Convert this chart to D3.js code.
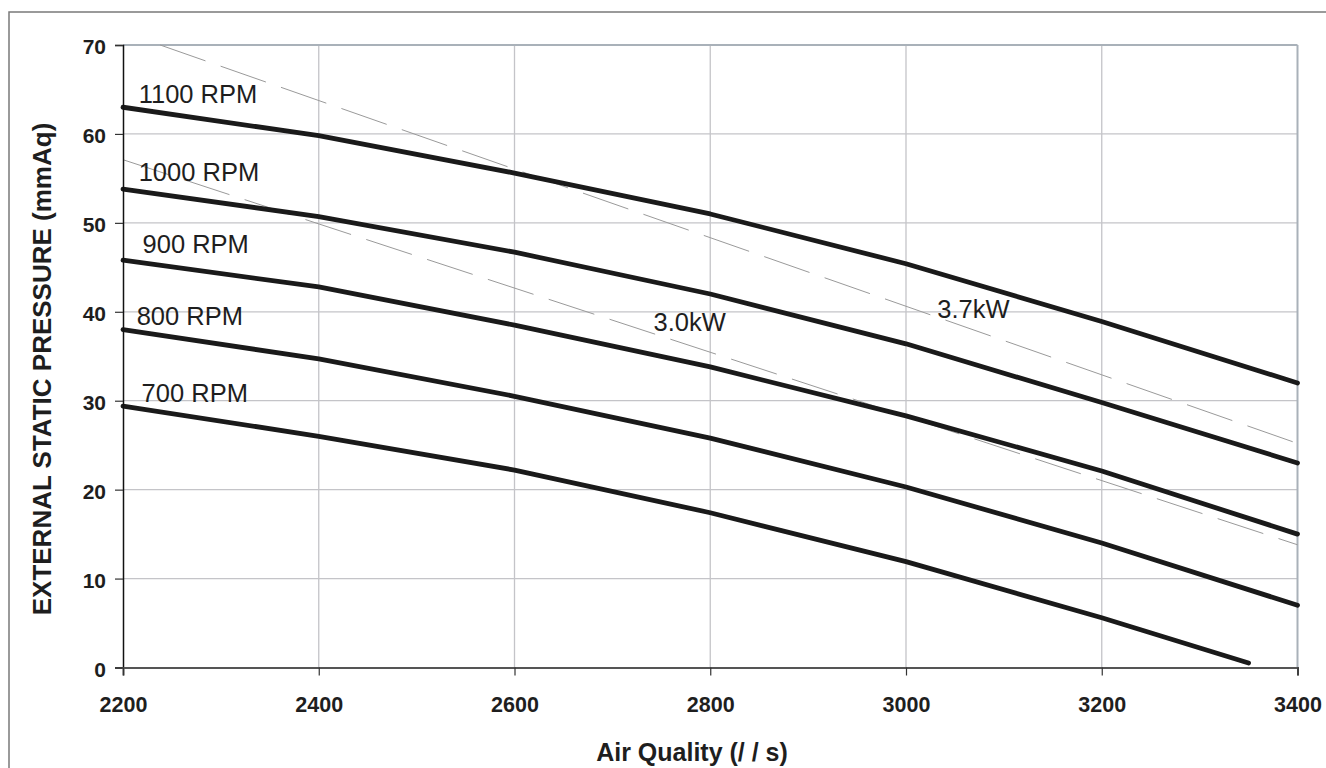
<!DOCTYPE html>
<html>
<head>
<meta charset="utf-8">
<script src="https://cdn.jsdelivr.net/npm/d3@7"></script>
<style>
  body { margin: 0; background: #fff; }
  svg { display: block; font-family: "Liberation Sans", Arial, Helvetica, sans-serif; }
</style>
</head>
<body>
<div id="chart"></div>
<script>
// data
const airflow = [2200, 2400, 2600, 2800, 3000, 3200, 3400];
const airflow700 = [2200, 2400, 2600, 2800, 3000, 3200, 3350];
const rpm1100 = [63.0, 59.8, 55.6, 51.0, 45.4, 38.9, 32.0];
const rpm1000 = [53.8, 50.7, 46.7, 42.0, 36.4, 29.8, 23.0];
const rpm900 = [45.8, 42.8, 38.5, 33.8, 28.3, 22.1, 15.0];
const rpm800 = [38.0, 34.7, 30.5, 25.8, 20.3, 14.0, 7.0];
const rpm700 = [29.4, 26.0, 22.2, 17.4, 11.9, 5.6, 0.5];
const rpmNames = ["1100 RPM", "1000 RPM", "900 RPM", "800 RPM", "700 RPM"];
// rpm label anchor points (data coords)
const rpmLabelX = [2216, 2216, 2220, 2214, 2219];
const rpmLabelY = [63.5, 54.7, 46.6, 38.5, 29.9];

// power lines (dashed)
const kwNames = ["3.7kW", "3.0kW"];
const kw37x = [2238, 3400], kw37y = [70, 25.2];
const kw30x = [2200, 3400], kw30y = [57.1, 13.8];
const kwLabelX = [3032, 2742];
const kwLabelY = [39.3, 37.8];

const xTicks = [2200, 2400, 2600, 2800, 3000, 3200, 3400];
const yTicks = [0, 10, 20, 30, 40, 50, 60, 70];

const W = 1326, H = 768;
const margin = {left: 123, right: 1297.5, top: 45, bottom: 667.5};

const svg = d3.select("#chart").append("svg")
  .attr("width", W).attr("height", H);

svg.append("rect").attr("width", W).attr("height", H).attr("fill", "#fff");
// outer frame, running off the right and bottom edges
svg.append("rect")
  .attr("x", 9).attr("y", 12).attr("width", 1400).attr("height", 800)
  .attr("fill", "none").attr("stroke", "#7a7a7a").attr("stroke-width", 1.5);

const x = d3.scaleLinear().domain([2200, 3400]).range([margin.left, margin.right]);
const y = d3.scaleLinear().domain([0, 70]).range([margin.bottom, margin.top]);

// grid
svg.append("g")
  .selectAll("line")
  .data(xTicks.slice(1, -1))
  .join("line")
    .attr("x1", d => x(d)).attr("x2", d => x(d))
    .attr("y1", margin.top).attr("y2", margin.bottom)
    .attr("stroke", "#c4c4c8").attr("stroke-width", 1.3);
svg.append("g")
  .selectAll("line")
  .data(yTicks.slice(1, -1))
  .join("line")
    .attr("x1", margin.left).attr("x2", margin.right)
    .attr("y1", d => y(d)).attr("y2", d => y(d))
    .attr("stroke", "#c4c4c8").attr("stroke-width", 1.3);

// top and right frame of the plot
svg.append("line")
  .attr("x1", margin.left).attr("x2", margin.right)
  .attr("y1", margin.top).attr("y2", margin.top)
  .attr("stroke", "#a9b1b9").attr("stroke-width", 2);
svg.append("line")
  .attr("x1", margin.right).attr("x2", margin.right)
  .attr("y1", margin.top).attr("y2", margin.bottom)
  .attr("stroke", "#a9b1b9").attr("stroke-width", 2);

const line = d3.line()
  .x(d => x(d[0]))
  .y(d => y(d[1]));

// dashed kW lines
const kwLines = [d3.zip(kw37x, kw37y), d3.zip(kw30x, kw30y)];
svg.append("g")
  .selectAll("path")
  .data(kwLines)
  .join("path")
    .attr("d", line)
    .attr("fill", "none")
    .attr("stroke", "#9a9a9a")
    .attr("stroke-width", 1)
    .attr("stroke-dasharray", "48,16");

// rpm curves
const curves = [
  d3.zip(airflow, rpm1100),
  d3.zip(airflow, rpm1000),
  d3.zip(airflow, rpm900),
  d3.zip(airflow, rpm800),
  d3.zip(airflow700, rpm700)
];
svg.append("g")
  .selectAll("path")
  .data(curves)
  .join("path")
    .attr("d", line)
    .attr("fill", "none")
    .attr("stroke", "#1a1a1a")
    .attr("stroke-width", 4.8)
    .attr("stroke-linecap", "round")
    .attr("stroke-linejoin", "round");

// axes
const yAxis = svg.append("g")
  .attr("transform", `translate(${margin.left},0)`)
  .call(d3.axisLeft(y).tickValues(yTicks).tickSize(8).tickPadding(9));
yAxis.select(".domain").attr("stroke", "#111").attr("stroke-width", 1.5);
yAxis.selectAll(".tick line").attr("stroke", "#333").attr("stroke-width", 1.2);
yAxis.selectAll(".tick text")
  .attr("font-size", 21).attr("font-weight", "bold").attr("fill", "#1e1e1e")
  .attr("font-family", "Liberation Sans, Arial, sans-serif")
  .attr("dy", "0.42em");

const xAxis = svg.append("g")
  .attr("transform", `translate(0,${margin.bottom})`)
  .call(d3.axisBottom(x).tickValues(xTicks).tickSize(8).tickFormat(d3.format("d")));
xAxis.select(".domain").attr("stroke", "#555").attr("stroke-width", 2);
xAxis.selectAll(".tick line").attr("stroke", "#333").attr("stroke-width", 1.2);
xAxis.selectAll(".tick text")
  .attr("font-size", 21.5).attr("font-weight", "bold").attr("fill", "#1e1e1e")
  .attr("font-family", "Liberation Sans, Arial, sans-serif")
  .attr("y", 44).attr("dy", 0);

// labels on the curves
svg.append("g")
  .selectAll("text")
  .data(rpmNames)
  .join("text")
    .attr("x", (d, i) => x(rpmLabelX[i]))
    .attr("y", (d, i) => y(rpmLabelY[i]))
    .attr("font-size", 25.5)
    .attr("fill", "#1e1e1e")
    .text(d => d);

svg.append("g")
  .selectAll("text")
  .data(kwNames)
  .join("text")
    .attr("x", (d, i) => x(kwLabelX[i]))
    .attr("y", (d, i) => y(kwLabelY[i]))
    .attr("font-size", 25.5)
    .attr("fill", "#1e1e1e")
    .text(d => d);

// axis titles
svg.append("text")
  .attr("x", 692).attr("y", 761)
  .attr("text-anchor", "middle")
  .attr("font-size", 25).attr("font-weight", "bold").attr("fill", "#1e1e1e")
  .text("Air Quality (/ / s)");

svg.append("text")
  .attr("transform", "translate(51,369) rotate(-90)")
  .attr("text-anchor", "middle")
  .attr("font-size", 26).attr("font-weight", "bold").attr("fill", "#1e1e1e")
  .text("EXTERNAL STATIC PRESSURE (mmAq)");
</script>
</body>
</html>
